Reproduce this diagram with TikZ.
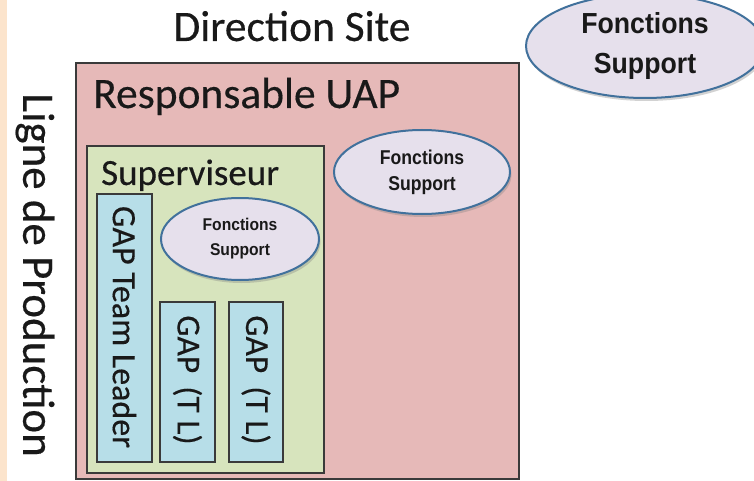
\documentclass[tikz,border=0pt]{standalone}
\usepackage{fontspec}
\usepackage{graphicx}
\setmainfont{Carlito}[FakeBold=0.35]
\newfontfamily\arialfont{Liberation Sans}
\usetikzlibrary{shapes.geometric,shadows}

\definecolor{stripfill}{HTML}{FCE4CC}
\definecolor{uapfill}{HTML}{E6B9B8}
\definecolor{supfill}{HTML}{D7E4BD}
\definecolor{gapfill}{HTML}{B7DEE8}
\definecolor{ovalfill}{HTML}{E6E0EC}
\definecolor{ovalline}{HTML}{41719C}
\definecolor{boxline}{HTML}{3A3A3A}

\tikzset{
  level/.style={draw=boxline, line width=2pt},
  gapbox/.style={draw=boxline, line width=1.2pt, fill=gapfill},
  oval/.style={ellipse, draw=ovalline, line width=2pt, fill=ovalfill,
    drop shadow={shadow xshift=1.5pt, shadow yshift=-3pt, opacity=0.35}},
  ovaltext/.style={align=center, text=black!90},
  bigtext/.style={text=black!90, inner sep=0pt}
}

\begin{document}
\begin{tikzpicture}[x=1pt, y=-1pt]
  \useasboundingbox (0,0) rectangle (754,481);
  \fill[white] (0,0) rectangle (754,481);
  \fill[stripfill] (0,0) rectangle (7,481);

  % title
  \node[bigtext, anchor=base, font=\fontsize{43.5}{48}\selectfont] (site) at (292,41) {Direction Site};

  % top-level support oval
  \node[oval, minimum width=238pt, minimum height=104pt] (supTop) at (645,46) {};
  \node[ovaltext, font=\arialfont\bfseries\fontsize{29}{40}\selectfont] (supTopTxt) at (supTop.center) {\scalebox{0.92}[1]{Fonctions}\\\scalebox{0.92}[1]{Support}};

  % production line label
  \node[bigtext, rotate=-90, font=\fontsize{45}{50}\selectfont] (ligne) at (35,275) {Ligne de Production};

  % Responsable UAP level
  \draw[level, fill=uapfill] (76,63) rectangle (519,479);
  \node[bigtext, anchor=base west, font=\fontsize{43.5}{48}\selectfont] (uap) at (93,108) {Responsable UAP};

  \node[oval, minimum width=176pt, minimum height=84pt] (supUap) at (422,172) {};
  \node[ovaltext, font=\arialfont\bfseries\fontsize{20}{26}\selectfont] (supUapTxt) at (supUap.center) {\scalebox{0.88}[1]{Fonctions}\\\scalebox{0.88}[1]{Support}};

  % Superviseur level
  \draw[level, fill=supfill] (87,146) rectangle (324,473);
  \node[bigtext, anchor=base west, font=\fontsize{37}{42}\selectfont] (sup) at (101,185) {Superviseur};

  \node[oval, minimum width=158pt, minimum height=82pt] (supSup) at (240,239) {};
  \node[ovaltext, font=\arialfont\bfseries\fontsize{17}{25}\selectfont] (supSupTxt) at (supSup.center) {\scalebox{0.92}[1]{Fonctions}\\\scalebox{0.92}[1]{Support}};

  % GAP boxes
  \draw[gapbox] (97,194) rectangle (152,462);
  \node[bigtext, rotate=-90, font=\fontsize{34}{38}\selectfont] (tl) at (124.5,327) {GAP Team Leader};
  \draw[gapbox] (160,302) rectangle (215,462);
  \node[bigtext, rotate=-90, font=\fontsize{33.5}{38}\selectfont] (gapA) at (187.5,380) {GAP \,(T L)};
  \draw[gapbox] (229,302) rectangle (283,462);
  \node[bigtext, rotate=-90, font=\fontsize{33.5}{38}\selectfont] (gapB) at (256,380) {GAP \,(T L)};
\end{tikzpicture}
\end{document}
